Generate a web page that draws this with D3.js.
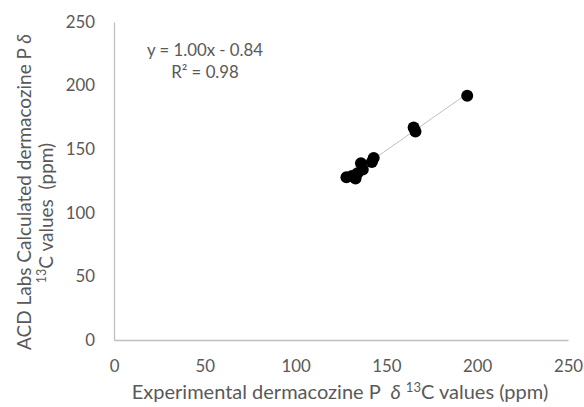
<!DOCTYPE html>
<html>
<head>
<meta charset="utf-8">
<script src="https://cdn.jsdelivr.net/npm/d3@7"></script>
<style>
html,body{margin:0;padding:0;background:#fff;}
svg{display:block;}
text{font-family:Lato,"Open Sans",sans-serif;}
</style>
</head>
<body>
<svg id="chart" width="584" height="407"></svg>
<script>
// Experimental δ13C (ppm)
const experimental = [143, 142, 136, 137, 134, 131, 128, 133, 165, 166, 194.5];
// ACD Labs calculated δ13C (ppm)
const calculated   = [143, 140, 139, 134, 131, 129, 128, 127, 167, 164, 192];
const xTicks = [0, 50, 100, 150, 200, 250];
const yTicks = [0, 50, 100, 150, 200, 250];
const slope = 1.00, intercept = -0.84;
const eqText = "y = 1.00x - 0.84";
const r2Text = "R² = 0.98";

const svg = d3.select("#chart");
const x = d3.scaleLinear().domain([0, 250]).range([114, 568]);
const y = d3.scaleLinear().domain([0, 250]).range([340, 22]);

// axes
const xAxis = svg.append("g").attr("transform", `translate(0,${y(0)})`)
  .call(d3.axisBottom(x).tickValues(xTicks).tickSize(0).tickPadding(20));
const yAxis = svg.append("g").attr("transform", `translate(${x(0)},0)`)
  .call(d3.axisLeft(y).tickValues(yTicks).tickSize(0).tickPadding(19));
[xAxis, yAxis].forEach(g => {
  g.select(".domain").attr("stroke", "#bfbfbf").attr("stroke-width", 1.3);
  g.selectAll("text").attr("fill", "#595959").attr("font-size", 16.8).attr("font-family", "Lato, sans-serif");
});

// trendline
const xmin = d3.min(experimental), xmax = d3.max(experimental);
svg.append("line")
  .attr("x1", x(xmin)).attr("y1", y(slope * xmin + intercept))
  .attr("x2", x(xmax)).attr("y2", y(slope * xmax + intercept))
  .attr("stroke", "#bfbfbf").attr("stroke-width", 1);

// points
svg.append("g").selectAll("circle")
  .data(experimental.map((d, i) => [d, calculated[i]]))
  .join("circle")
  .attr("cx", d => x(d[0])).attr("cy", d => y(d[1]))
  .attr("r", 6).attr("fill", "#000");

// equation
svg.append("text").attr("x", 205).attr("y", 56).attr("text-anchor", "middle")
  .attr("font-size", 16.8).attr("fill", "#595959").text(eqText);
svg.append("text").attr("x", 205).attr("y", 78).attr("text-anchor", "middle")
  .attr("font-size", 16.8).attr("fill", "#595959").text(r2Text);

// x title
const xt = svg.append("text").attr("x", 340).attr("y", 399).attr("text-anchor", "middle")
  .attr("font-size", 20).attr("fill", "#595959").attr("xml:space", "preserve");
xt.append("tspan").text("Experimental dermacozine P  ");
xt.append("tspan").attr("font-style", "italic").text("δ");
xt.append("tspan").text(" ");
xt.append("tspan").attr("font-size", 13).attr("dy", -7).text("13");
xt.append("tspan").attr("dy", 7).text("C values (ppm)");

// y title (two lines)
const l1 = svg.append("text").attr("transform", "translate(31,192) rotate(-90)")
  .attr("text-anchor", "middle").attr("font-size", 19).attr("fill", "#595959");
l1.append("tspan").text("ACD Labs Calculated dermacozine P ");
l1.append("tspan").attr("font-style", "italic").text("δ");
const l2 = svg.append("text").attr("transform", "translate(53,213) rotate(-90)")
  .attr("text-anchor", "middle").attr("font-size", 19).attr("fill", "#595959").attr("xml:space", "preserve");
l2.append("tspan").attr("font-size", 12.5).attr("dy", -7).text("13");
l2.append("tspan").attr("dy", 7).text("C values  (ppm)");
</script>
</body>
</html>
